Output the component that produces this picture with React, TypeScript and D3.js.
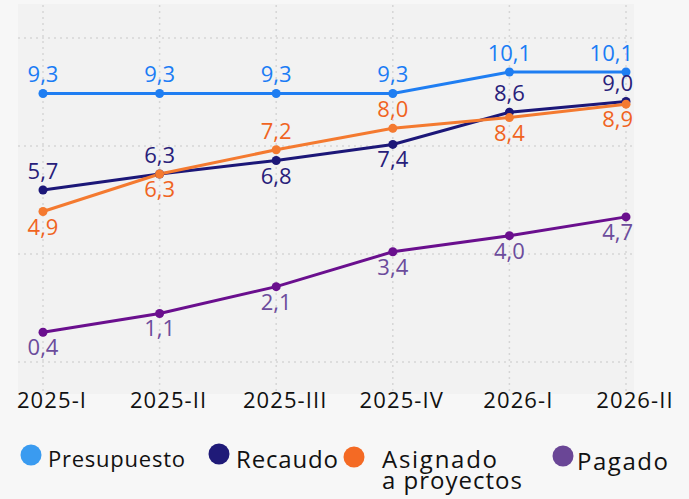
import { scalePoint, scaleLinear, line, range } from 'd3';

const categories = ['2025-I', '2025-II', '2025-III', '2025-IV', '2026-I', '2026-II'];
const presupuesto = [9.3, 9.3, 9.3, 9.3, 10.1, 10.1];
const recaudo = [5.7, 6.3, 6.8, 7.4, 8.6, 9.0];
const asignado = [4.9, 6.3, 7.2, 8.0, 8.4, 8.9];
const pagado = [0.4, 1.1, 2.1, 3.4, 4.0, 4.7];

type Series = {
  name: string[];
  values: number[];
  line: string;
  label: string;
  legend: string;
  above: boolean[];
};

const series: Series[] = [
  { name: ['Presupuesto'], values: presupuesto, line: '#1f7ef2', label: '#1a7cf5', legend: '#3a9bf0', above: [true, true, true, true, true, true] },
  { name: ['Recaudo'], values: recaudo, line: '#1c1778', label: '#28207a', legend: '#1f1a78', above: [true, true, false, false, true, true] },
  { name: ['Asignado', 'a proyectos'], values: asignado, line: '#f47a30', label: '#f0641f', legend: '#f46a24', above: [false, false, true, true, false, false] },
  { name: ['Pagado'], values: pagado, line: '#6a0f8e', label: '#6c4c9c', legend: '#6a4696', above: [false, false, false, false, false, false] },
];

const W = 689;
const H = 499;
const FONT = '"Open Sans", "Noto Sans", sans-serif';

// legend slots: circle centre, text x/baseline, font size, text widths per line
const legendPos = [
  { cx: 31, cy: 455, tx: 48, ty: 467, size: 22, widths: [137] },
  { cx: 219, cy: 454, tx: 236, ty: 468, size: 24, widths: [102] },
  { cx: 354, cy: 457, tx: 382, ty: 468, size: 24, widths: [115, 140] },
  { cx: 563, cy: 456, tx: 577, ty: 470, size: 24, widths: [91] },
];

export default function App() {
  const x = scalePoint<string>().domain(categories).range([43, 626]);
  const y = scaleLinear().domain([0, 12]).range([343, 21]);
  const gridY = scaleLinear().domain([0, 3]).range([38, 362]);

  const path = line<number>()
    .x((_, i) => x(categories[i]) as number)
    .y((d) => y(d));

  return (
    <svg
      width={W}
      height={H}
      style={{ position: 'absolute', left: 0, top: 0, fontFamily: FONT }}
    >
      <rect width={W} height={H} fill="#f7f7f7" />
      <rect x={18} y={4} width={616} height={390} fill="#f2f2f2" />

      {/* grid */}
      {range(4).map((i) => (
        <line
          key={'h' + i}
          x1={18}
          x2={634}
          y1={gridY(i)}
          y2={gridY(i)}
          stroke="#d6d6d6"
          strokeWidth={1.5}
          strokeDasharray="2 4"
        />
      ))}
      {categories.map((c) => (
        <line
          key={'v' + c}
          x1={x(c)}
          x2={x(c)}
          y1={5}
          y2={395}
          stroke="#d6d6d6"
          strokeWidth={1.5}
          strokeDasharray="2 4"
        />
      ))}

      {/* lines */}
      {series.map((s) => (
        <path key={s.name[0]} d={path(s.values) || ''} fill="none" stroke={s.line} strokeWidth={3} />
      ))}
      {series.map((s) =>
        s.values.map((v, i) => (
          <circle key={s.name[0] + i} cx={x(categories[i])} cy={y(v)} r={4.5} fill={s.line} />
        ))
      )}

      {/* value labels */}
      {series.map((s) =>
        s.values.map((v, i) => {
          const last = i === categories.length - 1;
          const px = (x(categories[i]) as number) + (last ? 7 : 0);
          return (
            <text
              key={'l' + s.name[0] + i}
              x={px}
              y={y(v) + (s.above[i] ? -11 : 23)}
              textAnchor={last ? 'end' : 'middle'}
              fontSize={22}
              fill={s.label}
            >
              {v.toFixed(1).replace('.', ',')}
            </text>
          );
        })
      )}

      {/* x axis labels */}
      {categories.map((c) => (
        <text
          key={'x' + c}
          x={(x(c) as number) + 9}
          y={408}
          textAnchor="middle"
          fontSize={22}
          letterSpacing={1.1}
          fill="#111"
        >
          {c}
        </text>
      ))}

      {/* legend */}
      {series.map((s, i) => {
        const p = legendPos[i];
        return (
          <g key={'lg' + s.name[0]}>
            <circle cx={p.cx} cy={p.cy} r={10.5} fill={s.legend} />
            {s.name.map((t, j) => (
              <text
                key={t}
                x={p.tx}
                y={p.ty + j * 21}
                fontSize={p.size}
                textLength={p.widths[j]}
                lengthAdjust="spacing"
                fill="#111"
              >
                {t}
              </text>
            ))}
          </g>
        );
      })}
    </svg>
  );
}
